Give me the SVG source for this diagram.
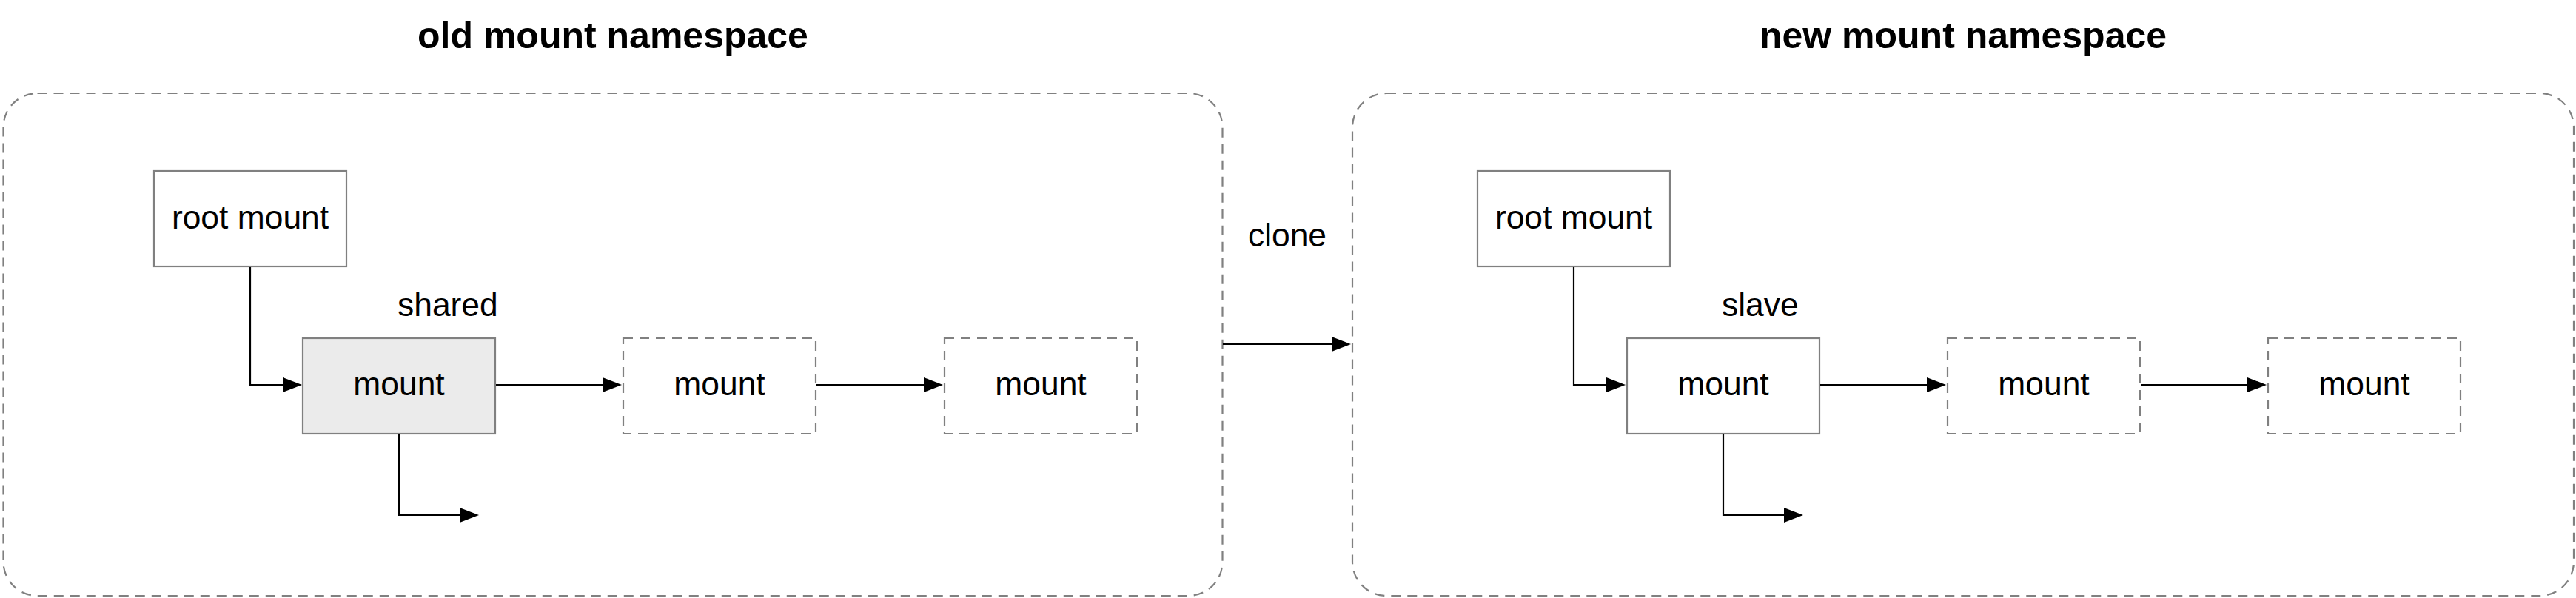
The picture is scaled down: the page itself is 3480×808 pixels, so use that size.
<svg xmlns="http://www.w3.org/2000/svg" width="3480" height="808" viewBox="0 0 3480 808">
<style>
  .ns { fill: none; stroke: #808080; stroke-width: 2.2; stroke-dasharray: 13 9; }
  .box { fill: #ffffff; stroke: #808080; stroke-width: 2.2; }
  .shared { fill: #ebebeb; }
  .dash { stroke-dasharray: 13 9; }
  .edge { fill: none; stroke: #000000; stroke-width: 2.2; }
  text { font-family: "Liberation Sans", Arial, Helvetica, sans-serif; fill: #000000; }
  .lbl { font-size: 44.4px; text-anchor: middle; }
  .tag { font-size: 44.4px; text-anchor: start; }
  .title { font-size: 50px; font-weight: bold; text-anchor: middle; }
</style>
<defs>
  <marker id="arrow" viewBox="0 0 26 20" refX="0" refY="10" markerWidth="26" markerHeight="20" markerUnits="userSpaceOnUse" orient="auto">
    <path d="M0,0 L26,10 L0,20 Z" fill="#000000"/>
  </marker>
</defs>
<rect width="3480" height="808" fill="#ffffff"/>

<g id="old-namespace">
  <rect class="ns" x="4.5" y="126" width="1647" height="679" rx="46" ry="46"/>
  <text class="title" x="828" y="65">old mount namespace</text>
</g>
<g id="new-namespace">
  <rect class="ns" x="1827" y="126" width="1650" height="679" rx="46" ry="46"/>
  <text class="title" x="2652" y="65">new mount namespace</text>
</g>

<g id="old-root">
  <rect class="box" x="208" y="231" width="260" height="129"/>
  <text class="lbl" x="338" y="309">root mount</text>
</g>
<g id="old-shared">
  <rect class="box shared" x="409" y="457" width="260" height="129"/>
  <text class="lbl" x="539" y="534">mount</text>
  <text class="tag" x="537" y="427">shared</text>
</g>
<g id="old-mount2">
  <rect class="box dash" x="842" y="457" width="260" height="129"/>
  <text class="lbl" x="972" y="534">mount</text>
</g>
<g id="old-mount3">
  <rect class="box dash" x="1276" y="457" width="260" height="129"/>
  <text class="lbl" x="1406" y="534">mount</text>
</g>

<g id="new-root">
  <rect class="box" x="1996" y="231" width="260" height="129"/>
  <text class="lbl" x="2126" y="309">root mount</text>
</g>
<g id="new-slave">
  <rect class="box" x="2198" y="457" width="260" height="129"/>
  <text class="lbl" x="2328" y="534">mount</text>
  <text class="tag" x="2326" y="427">slave</text>
</g>
<g id="new-mount2">
  <rect class="box dash" x="2631" y="457" width="260" height="129"/>
  <text class="lbl" x="2761" y="534">mount</text>
</g>
<g id="new-mount3">
  <rect class="box dash" x="3064" y="457" width="260" height="129"/>
  <text class="lbl" x="3194" y="534">mount</text>
</g>

<g id="connectors">
  <path class="edge" d="M338 361 V520 H382" marker-end="url(#arrow)"/>
  <path class="edge" d="M670 520 H814" marker-end="url(#arrow)"/>
  <path class="edge" d="M1103 520 H1248" marker-end="url(#arrow)"/>
  <path class="edge" d="M539 587 V696 H621" marker-end="url(#arrow)"/>
  <path class="edge" d="M1652 465 H1799" marker-end="url(#arrow)"/>
  <text class="lbl" x="1739" y="333">clone</text>
  <path class="edge" d="M2126 361 V520 H2170" marker-end="url(#arrow)"/>
  <path class="edge" d="M2459 520 H2603" marker-end="url(#arrow)"/>
  <path class="edge" d="M2892 520 H3036" marker-end="url(#arrow)"/>
  <path class="edge" d="M2328 587 V696 H2410" marker-end="url(#arrow)"/>
</g>
</svg>
